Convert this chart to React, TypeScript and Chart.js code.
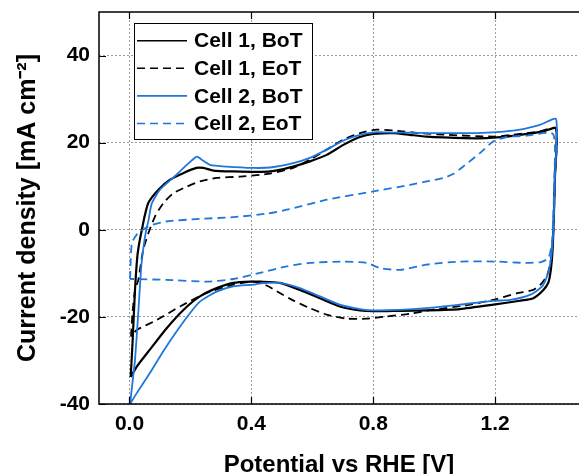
import React, { useEffect, useRef } from "react";
import { Chart, registerables } from "chart.js";

Chart.register(...registerables);

// ---- Data: [potential V vs RHE, current density mA cm^-2] ----
const seriesLabels = ["Cell 1, BoT", "Cell 1, EoT", "Cell 2, BoT", "Cell 2, EoT"];

const cell1BoT: [number, number][] = [
  [0.004, -33.8], [0.01, -26], [0.018, -14], [0.026, -6], [0.034, -2.3], [0.043, 0.8], [0.05, 3.2],
  [0.062, 6.2], [0.095, 9.2], [0.133, 11.5], [0.176, 13], [0.22, 14.2], [0.242, 14.2], [0.275, 13.6],
  [0.341, 13.4], [0.43, 13.3], [0.48, 13.6], [0.537, 14.5], [0.592, 15.7], [0.647, 17.2], [0.702, 19.5],
  [0.756, 21.3], [0.8, 22], [0.866, 22.2], [0.92, 21.8], [0.975, 21.4], [1.03, 21.2], [1.139, 21.0],
  [1.205, 21.2], [1.281, 21.8], [1.358, 22.6], [1.4, 23.3],
  [1.396, 12], [1.392, 2], [1.388, -5], [1.383, -9], [1.375, -12], [1.358, -13.8], [1.325, -15.7],
  [1.281, -16.3], [1.194, -17.2], [1.084, -18.2], [0.975, -18.5], [0.888, -18.6], [0.8, -18.7],
  [0.756, -18.5], [0.69, -17.6], [0.625, -15.7], [0.559, -13.8], [0.494, -12.2], [0.43, -11.9],
  [0.406, -11.9], [0.341, -12.2], [0.286, -13.4], [0.231, -15.3], [0.177, -18.4], [0.122, -22.6],
  [0.067, -27.5], [0.024, -31.4], [0.004, -33.8],
];

const cell1EoT: [number, number][] = [
  [0.005, -24.5], [0.01, -19], [0.018, -14], [0.029, -11.5], [0.037, -8], [0.045, -4.6], [0.062, -0.8],
  [0.084, 3.1], [0.111, 6.1], [0.144, 8.4], [0.188, 9.9], [0.231, 11.1], [0.286, 11.9], [0.363, 12.2],
  [0.428, 12.6], [0.461, 12.9], [0.537, 14.2], [0.592, 16.1], [0.647, 18.4], [0.702, 20.7], [0.756, 22.2],
  [0.811, 23], [0.866, 22.8], [0.95, 22.2], [1.041, 21.8], [1.193, 21.4], [1.258, 21.8], [1.347, 22.6],
  [1.4, 23.3],
  [1.396, 12], [1.392, 2], [1.388, -4], [1.38, -8], [1.37, -10.5], [1.35, -12.5], [1.325, -13.8],
  [1.27, -14.6], [1.2, -16], [1.1, -17.4], [1.0, -18.3], [0.92, -19.3], [0.844, -19.9], [0.778, -20.4],
  [0.713, -20.4], [0.647, -19.5], [0.592, -18], [0.537, -16.2], [0.483, -14.1], [0.45, -12.8],
  [0.406, -11.9], [0.341, -12.6], [0.253, -14.5], [0.166, -17.6], [0.09, -20.7], [0.024, -23],
  [0.005, -24.5],
];

const cell2BoT: [number, number][] = [
  [0.002, -40], [0.01, -35], [0.018, -30], [0.029, -19], [0.038, -9], [0.045, -4.5], [0.055, 0],
  [0.062, 2], [0.073, 6], [0.1, 9.2], [0.144, 12], [0.188, 14.9], [0.221, 16.8], [0.237, 16.1],
  [0.264, 14.9], [0.319, 14.5], [0.406, 14.2], [0.461, 14.3], [0.537, 15.3], [0.592, 16.5],
  [0.647, 18.4], [0.702, 20.5], [0.756, 21.8], [0.811, 22.4], [0.866, 22.3], [0.92, 22.3],
  [0.975, 22.2], [1.03, 22.2], [1.139, 22.2], [1.205, 22.4], [1.281, 23], [1.347, 24.1], [1.4, 25.4],
  [1.396, 12], [1.392, 2], [1.386, -5], [1.38, -8], [1.37, -10.7], [1.354, -13], [1.316, -14.9],
  [1.25, -16.1], [1.194, -16.3], [1.084, -17.2], [0.975, -18], [0.888, -18.4], [0.8, -18.5],
  [0.756, -18.2], [0.69, -17.2], [0.625, -15.3], [0.559, -13.4], [0.494, -12.2], [0.43, -12.3],
  [0.406, -12.6], [0.341, -13], [0.286, -14.2], [0.231, -16.5], [0.199, -19.1], [0.155, -23.3],
  [0.111, -27.9], [0.067, -32.9], [0.024, -37.5], [0.002, -40],
];

const cell2EoT: [number, number][] = [
  [0.002, -11.3], [0.004, -7], [0.008, -3], [0.024, -1.1], [0.062, 0.8], [0.12, 1.9], [0.231, 2.5],
  [0.341, 2.9], [0.45, 3.7], [0.516, 4.6], [0.647, 6.9], [0.8, 8.8], [0.92, 10.3], [0.975, 11.1],
  [1.03, 11.9], [1.062, 12.8], [1.1, 14.8], [1.15, 17.6], [1.194, 20.3], [1.238, 21.3], [1.303, 21.6],
  [1.39, 22],
  [1.394, 12], [1.39, 2], [1.386, -3], [1.375, -6.5], [1.35, -7.4], [1.3, -7.6], [1.2, -7.3],
  [1.084, -7.3], [0.975, -8], [0.888, -9.2], [0.822, -8.8], [0.778, -7.6], [0.702, -7.3],
  [0.592, -7.6], [0.516, -8.4], [0.428, -9.9], [0.341, -11.3], [0.253, -11.9], [0.12, -11.5],
  [0.012, -11.3], [0.002, -11.3],
];

const xTicks = [0.0, 0.4, 0.8, 1.2];
const yTicks = [-40, -20, 0, 20, 40];

const BLUE = "#1f76dc";
const FONT = '"Liberation Sans", Arial, Helvetica, sans-serif';

const toPts = (arr: [number, number][]) => arr.map(([x, y]) => ({ x, y }));

const framePlugin = {
  id: "frame",
  afterDatasetsDraw(chart: any) {
    const { ctx, chartArea, scales } = chart;
    const { left, right, top, bottom } = chartArea;
    ctx.save();
    ctx.strokeStyle = "#000";
    ctx.lineWidth = 1.5;
    ctx.beginPath();
    ctx.moveTo(right, top);
    ctx.lineTo(left, top);
    ctx.lineTo(left, bottom);
    ctx.lineTo(right, bottom);
    ctx.stroke();
    ctx.lineWidth = 1.2;
    ctx.beginPath();
    scales.x.ticks.forEach((t: any) => {
      const px = Math.round(scales.x.getPixelForValue(t.value)) + 0.5;
      ctx.moveTo(px, top);
      ctx.lineTo(px, top + 7);
      ctx.moveTo(px, bottom);
      ctx.lineTo(px, bottom - 7);
    });
    scales.y.ticks.forEach((t: any) => {
      const py = Math.round(scales.y.getPixelForValue(t.value)) + 0.5;
      ctx.moveTo(left, py);
      ctx.lineTo(left + 7, py);
    });
    ctx.stroke();
    ctx.restore();
  },
};

const legendPlugin = {
  id: "boxLegend",
  afterDraw(chart: any) {
    const { ctx, chartArea } = chart;
    const x0 = Math.round(chartArea.left + 35);
    const y0 = Math.round(chartArea.top + 11);
    const w = 178;
    const h = 116;
    ctx.save();
    ctx.fillStyle = "#fff";
    ctx.fillRect(x0, y0, w, h);
    ctx.strokeStyle = "#000";
    ctx.lineWidth = 1;
    ctx.strokeRect(x0 + 0.5, y0 + 0.5, w, h);
    chart.data.datasets.forEach((ds: any, i: number) => {
      const cy = y0 + 17.7 + i * 27.6;
      ctx.beginPath();
      ctx.setLineDash(ds.borderDash || []);
      ctx.strokeStyle = ds.borderColor;
      ctx.lineWidth = 1.6;
      ctx.moveTo(x0 + 3, cy);
      ctx.lineTo(x0 + 53, cy);
      ctx.stroke();
      ctx.setLineDash([]);
      ctx.fillStyle = "#000";
      ctx.font = `bold 21px ${FONT}`;
      ctx.textBaseline = "middle";
      ctx.textAlign = "left";
      ctx.fillText(ds.label, x0 + 60, cy + 1);
    });
    ctx.restore();
  },
};

export default function App() {
  const canvasRef = useRef<HTMLCanvasElement | null>(null);

  useEffect(() => {
    if (!canvasRef.current) return;
    const gridCfg = {
      color: "#9a9a9a",
      lineWidth: 1,
      drawTicks: false,
    };
    const borderCfg = { display: false, dash: [2, 2] };
    const chart = new Chart(canvasRef.current, {
      type: "line",
      data: {
        datasets: [
          { label: seriesLabels[0], data: toPts(cell1BoT), borderColor: "#000", borderWidth: 2.2, order: 3 },
          { label: seriesLabels[1], data: toPts(cell1EoT), borderColor: "#000", borderWidth: 1.8, borderDash: [8, 5], order: 2 },
          { label: seriesLabels[2], data: toPts(cell2BoT), borderColor: BLUE, borderWidth: 1.8, order: 1 },
          { label: seriesLabels[3], data: toPts(cell2EoT), borderColor: BLUE, borderWidth: 1.8, borderDash: [8, 5], order: 0 },
        ] as any,
      },
      options: {
        animation: false,
        responsive: false,
        maintainAspectRatio: false,
        layout: { padding: { top: 12, right: 0, left: 0, bottom: 0 } },
        elements: {
          point: { radius: 0, hoverRadius: 0 },
          line: { tension: 0.2, fill: false },
        },
        plugins: {
          legend: { display: false },
          tooltip: { enabled: false },
        },
        scales: {
          x: {
            type: "linear",
            min: -0.1,
            max: 1.475,
            border: borderCfg as any,
            grid: gridCfg as any,
            afterBuildTicks: (s: any) => {
              s.ticks = xTicks.map((v) => ({ value: v }));
            },
            afterFit: (s: any) => {
              s.height = 70;
              s.paddingLeft = 0;
              s.paddingRight = 0;
            },
            ticks: {
              padding: 8,
              color: "#000",
              font: { family: FONT, size: 21, weight: "bold" },
              callback: (v: any) => Number(v).toFixed(1),
            },
            title: {
              display: true,
              text: "Potential vs RHE [V]",
              color: "#000",
              font: { family: FONT, size: 24, weight: "bold" },
              padding: { top: 0, bottom: -6 },
            },
          },
          y: {
            type: "linear",
            min: -40,
            max: 50,
            border: borderCfg as any,
            grid: gridCfg as any,
            afterBuildTicks: (s: any) => {
              s.ticks = yTicks.map((v) => ({ value: v }));
            },
            afterFit: (s: any) => {
              s.width = 99;
              s.paddingTop = 0;
              s.paddingBottom = 0;
            },
            ticks: {
              padding: 9,
              color: "#000",
              font: { family: FONT, size: 21, weight: "bold" },
              callback: (v: any) => String(v),
            },
            title: {
              display: true,
              text: "Current density [mA cm⁻²]",
              color: "#000",
              font: { family: FONT, size: 25, weight: "bold" },
              padding: { top: 13, bottom: 0 },
            },
          },
        },
      },
      plugins: [framePlugin, legendPlugin],
    });
    return () => chart.destroy();
  }, []);

  return (
    <div style={{ position: "fixed", left: 0, top: 0, width: 579, height: 474, background: "#fff" }}>
      <canvas ref={canvasRef} width={579} height={474} style={{ display: "block" }} />
    </div>
  );
}
